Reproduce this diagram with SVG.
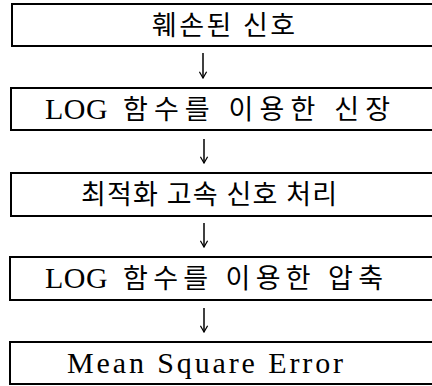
<svg xmlns="http://www.w3.org/2000/svg" width="432" height="386" viewBox="0 0 432 386">
<defs>
<style>
.box{fill:#fff;stroke:#000;stroke-width:2}
.lbl{font-family:"Liberation Serif","Noto Sans CJK KR",serif;font-size:27px;fill:#000}
.lat{font-size:30px}
.conn{stroke:#000;stroke-width:1.5;fill:none}
</style>
<marker id="ah" viewBox="0 0 10 10" refX="9" refY="5" markerWidth="9" markerHeight="9" markerUnits="userSpaceOnUse" orient="auto">
<path d="M2 1 L9 5 L2 9" fill="none" stroke="#000" stroke-width="1.4"/>
</marker>
</defs>
<rect width="432" height="386" fill="#fff"/>
<g id="n1">
<rect class="box" x="12" y="4" width="430" height="42"/>
<text class="lbl" x="152" y="35" textLength="143" lengthAdjust="spacing">훼손된 신호</text>
</g>
<g id="n2">
<rect class="box" x="11" y="88" width="430" height="42"/>
<text class="lbl lat" x="45" y="119" letter-spacing="0.5">LOG</text>
<text class="lbl" x="123" y="119" textLength="267" lengthAdjust="spacing">함수를 이용한 신장</text>
</g>
<g id="n3">
<rect class="box" x="11" y="173" width="430" height="43"/>
<text class="lbl" x="81" y="204" textLength="256" lengthAdjust="spacing">최적화 고속 신호 처리</text>
</g>
<g id="n4">
<rect class="box" x="10" y="257" width="430" height="43"/>
<text class="lbl lat" x="45" y="288" letter-spacing="0.5">LOG</text>
<text class="lbl" x="123" y="288" textLength="260" lengthAdjust="spacing">함수를 이용한 압축</text>
</g>
<g id="n5">
<rect class="box" x="10" y="342" width="430" height="42"/>
<text class="lbl lat" x="67" y="373" textLength="276" lengthAdjust="spacing">Mean Square Error</text>
</g>
<g id="connectors">
<line class="conn" x1="203" y1="53" x2="203" y2="78" marker-end="url(#ah)"/>
<line class="conn" x1="204" y1="139" x2="204" y2="163" marker-end="url(#ah)"/>
<line class="conn" x1="204" y1="223" x2="204" y2="247" marker-end="url(#ah)"/>
<line class="conn" x1="204" y1="308" x2="204" y2="332" marker-end="url(#ah)"/>
</g>
</svg>
